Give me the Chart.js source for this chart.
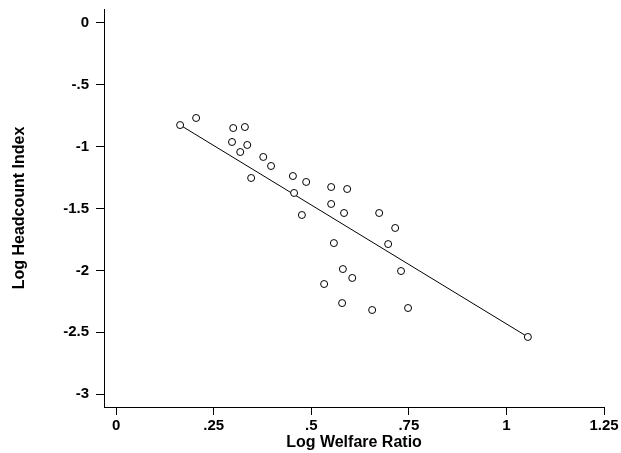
<!DOCTYPE html>
<html>
<head>
<meta charset="utf-8">
<script src="https://cdn.jsdelivr.net/npm/chart.js@4"></script>
<style>
  body { margin: 0; background: #fff; }
  canvas { display: block; }
</style>
</head>
<body>
<canvas id="chart" width="621" height="453"></canvas>
<script>
// values
const welfare = [0.164, 0.205, 0.300, 0.330, 0.297, 0.336, 0.318, 0.377, 0.397, 0.346,
                 0.453, 0.487, 0.456, 0.476, 0.551, 0.592, 0.551, 0.584, 0.674, 0.715,
                 0.558, 0.697, 0.581, 0.605, 0.730, 0.533, 0.579, 0.656, 0.748, 1.055];
const headcount = [-0.825, -0.768, -0.849, -0.841, -0.962, -0.986, -1.043, -1.083, -1.156, -1.253,
                   -1.237, -1.285, -1.374, -1.552, -1.326, -1.342, -1.463, -1.536, -1.536, -1.657,
                   -1.779, -1.787, -1.989, -2.061, -2.005, -2.110, -2.264, -2.320, -2.304, -2.538];

// fitted line, its two ends
const fitWelfare = [0.164, 1.055];
const fitHeadcount = [-0.825, -2.538];

const xTicks = [0, 0.25, 0.5, 0.75, 1, 1.25];
const xTickLabels = ['0', '.25', '.5', '.75', '1', '1.25'];
const yTicks = [0, -0.5, -1, -1.5, -2, -2.5, -3];
const yTickLabels = ['0', '-.5', '-1', '-1.5', '-2', '-2.5', '-3'];

const tickFont = { family: '"Liberation Sans", Arial, sans-serif', size: 15, weight: 'bold' };
const titleFont = { family: '"Liberation Sans", Arial, sans-serif', size: 16, weight: 'bold' };

let ctx = document.getElementById('chart').getContext('2d');

let chart = new Chart(ctx, {
    data: {
        datasets: [{
            type: 'scatter',
            data: welfare.map((x, i) => ({ x: x, y: headcount[i] })),
            pointRadius: 3.5,
            pointBorderWidth: 1,
            pointBorderColor: '#000',
            pointBackgroundColor: '#fff',
            order: 1
        }, {
            type: 'line',
            data: fitWelfare.map((x, i) => ({ x: x, y: fitHeadcount[i] })),
            borderColor: '#000',
            borderWidth: 1,
            pointRadius: 0,
            fill: false,
            order: 2
        }]
    },
    options: {
        responsive: false,
        animation: false,
        layout: { padding: { top: 9, right: 17, bottom: 0, left: 0 } },
        plugins: { legend: { display: false }, tooltip: { enabled: false } },
        scales: {
            x: {
                type: 'linear',
                min: -0.031,
                max: 1.25,
                afterBuildTicks: (scale) => { scale.ticks = xTicks.map(v => ({ value: v })); },
                afterFit: (scale) => {
                    scale.height = 46;
                    scale.paddingLeft = 0;
                    scale.paddingRight = 0;
                },
                ticks: {
                    color: '#000',
                    font: tickFont,
                    padding: 2,
                    maxRotation: 0,
                    callback: (v) => xTickLabels[xTicks.indexOf(v)]
                },
                grid: { drawOnChartArea: false, drawTicks: true, tickLength: 8, color: '#000' },
                border: { display: true, color: '#000' },
                title: { display: true, text: 'Log Welfare Ratio', color: '#000', font: titleFont, padding: { top: 0, bottom: 1 } }
            },
            y: {
                type: 'linear',
                min: -3.104,
                max: 0.113,
                afterBuildTicks: (scale) => { scale.ticks = yTicks.map(v => ({ value: v })); },
                afterFit: (scale) => {
                    scale.width = 104;
                    scale.paddingTop = 0;
                    scale.paddingBottom = 0;
                },
                ticks: {
                    color: '#000',
                    font: tickFont,
                    padding: 7,
                    callback: (v) => yTickLabels[yTicks.indexOf(v)]
                },
                grid: { drawOnChartArea: false, drawTicks: true, tickLength: 8, color: '#000' },
                border: { display: true, color: '#000' },
                title: { display: true, text: 'Log Headcount Index', color: '#000', font: titleFont, padding: { top: 10, bottom: 0 } }
            }
        }
    }
});
</script>
</body>
</html>
